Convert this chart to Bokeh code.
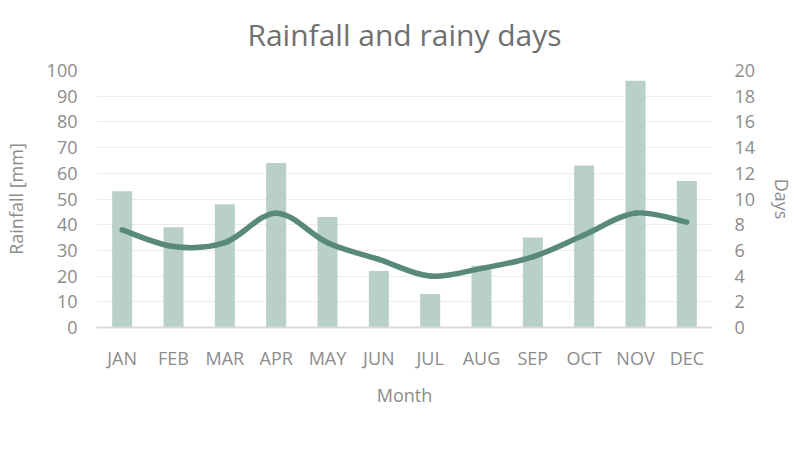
from bokeh.plotting import figure
from bokeh.models import (Range1d, LinearAxis, FixedTicker, Legend, LegendItem, Title)
from bokeh.embed import file_html
from bokeh.resources import INLINE

months = ["JAN", "FEB", "MAR", "APR", "MAY", "JUN", "JUL", "AUG", "SEP", "OCT", "NOV", "DEC"]
rainfall = [53, 39, 48, 64, 43, 22, 13, 24, 35, 63, 96, 57]
rainy_days = [7.6, 6.3, 6.6, 8.9, 6.6, 5.3, 4.0, 4.6, 5.5, 7.2, 8.9, 8.2]

FONT = "Open Sans"
TXT = "#8c8c8c"
BAR = "#b8d0c7"
LINE = "#598a77"

xs = list(range(1, len(months) + 1))

p = figure(frame_width=616, frame_height=257, output_backend="svg", toolbar_location=None,
           x_range=Range1d(0.5, 12.5), y_range=Range1d(0, 100),
           min_border_left=96, min_border_right=80, min_border_top=69, min_border_bottom=0)
p.extra_y_ranges = {"days": Range1d(0, 20)}
p.outline_line_color = None
p.background_fill_color = "white"

bars = p.vbar(x=xs, top=rainfall, width=0.39, color=BAR, line_color=None)

# smooth curve through the points (Catmull-Rom control points -> bezier segments)
n = len(xs)
x0, y0, x1, y1, cx0, cy0, cx1, cy1 = [], [], [], [], [], [], [], []
for i in range(n - 1):
    pm = (xs[max(i - 1, 0)], rainy_days[max(i - 1, 0)])
    pa = (xs[i], rainy_days[i])
    pb = (xs[i + 1], rainy_days[i + 1])
    pp = (xs[min(i + 2, n - 1)], rainy_days[min(i + 2, n - 1)])
    x0.append(pa[0]); y0.append(pa[1]); x1.append(pb[0]); y1.append(pb[1])
    cx0.append(pa[0] + (pb[0] - pm[0]) / 6); cy0.append(pa[1] + (pb[1] - pm[1]) / 6)
    cx1.append(pb[0] - (pp[0] - pa[0]) / 6); cy1.append(pb[1] - (pp[1] - pa[1]) / 6)
curve = p.bezier(x0=x0, y0=y0, x1=x1, y1=y1, cx0=cx0, cy0=cy0, cx1=cx1, cy1=cy1,
                 line_color=LINE, line_width=5.5, line_cap="round", y_range_name="days")

# axes
xa = p.xaxis[0]
xa.ticker = FixedTicker(ticks=xs)
xa.major_label_overrides = {i: m for i, m in zip(xs, months)}
xa.axis_label = "Month"
xa.axis_line_color = "#d9d9d9"
xa.axis_line_width = 2
xa.major_tick_line_color = None
xa.minor_tick_line_color = None
xa.major_label_standoff = 12
xa.axis_label_standoff = 10

ya = p.yaxis[0]
ya.ticker = FixedTicker(ticks=list(range(0, 101, 10)))
ya.axis_label = "Rainfall [mm]"
ya.axis_line_color = None
ya.major_tick_line_color = None
ya.minor_tick_line_color = None
ya.major_label_standoff = 13
ya.axis_label_standoff = 16

ra = LinearAxis(y_range_name="days", ticker=FixedTicker(ticks=list(range(0, 21, 2))),
                axis_label="Days")
ra.axis_line_color = None
ra.major_tick_line_color = None
ra.minor_tick_line_color = None
ra.major_label_standoff = 16
ra.axis_label_standoff = 12
p.add_layout(ra, "right")

for ax in (xa, ya, ra):
    ax.major_label_text_font = FONT
    ax.major_label_text_font_size = "18px"
    ax.major_label_text_color = TXT
    ax.axis_label_text_font = FONT
    ax.axis_label_text_font_size = "18px"
    ax.axis_label_text_color = TXT
    ax.axis_label_text_font_style = "normal"

p.xgrid.grid_line_color = None
p.ygrid.grid_line_color = "#ececec"
p.ygrid.grid_line_width = 1

title = Title(text="Rainfall and rainy days", align="center", vertical_align="top",
              text_font=FONT, text_font_size="30px", text_color="#707070",
              text_font_style="normal", standoff=27)
p.add_layout(title, "above")

legend = Legend(items=[LegendItem(label="Rainfall", renderers=[bars]),
                       LegendItem(label="Rainy days", renderers=[curve])],
                orientation="horizontal", location="center",
                glyph_width=53, glyph_height=12, label_text_font=FONT,
                label_text_font_size="18px", label_text_color=TXT,
                border_line_color=None, background_fill_alpha=0,
                spacing=20, label_standoff=5, margin=8, padding=0)
p.add_layout(legend, "below")

open("out.html", "w").write(file_html(p, INLINE))
